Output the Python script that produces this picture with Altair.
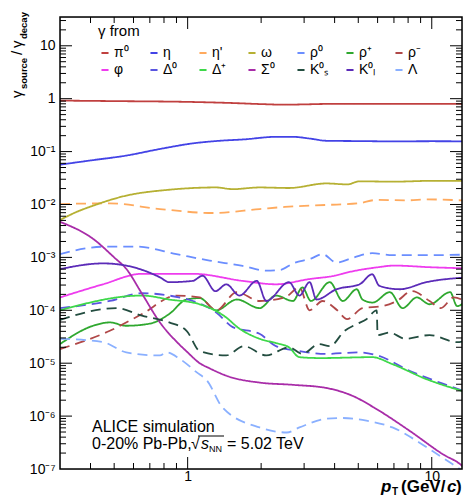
import altair as alt
import pandas as pd

FONT = "Liberation Sans"

labels = ["π⁰", "η", "η'", "ω", "ρ⁰", "ρ⁺", "ρ⁻", "φ", "Δ⁰", "Δ⁺", "Σ⁰", "K⁰ₛ", "K⁰ₗ", "Λ"]
colors = ["#c0403f", "#4343e6", "#ffaa5e", "#b6b033", "#6b8eff", "#2fa82f", "#b04848",
          "#ee3cee", "#5a55e0", "#3ed84a", "#a82ca8", "#234d40", "#5b2bb8", "#8ab0ff"]
dashed = [False, False, True, False, True, False, True,
          False, True, False, False, True, False, True]

pt_pi0 = [0.3, 0.5, 1.0, 1.5, 2.0, 2.5, 3.0, 4, 6, 8, 10, 14]
y_pi0 = [0.92, 0.90, 0.87, 0.83, 0.79, 0.77, 0.78, 0.80, 0.80, 0.80, 0.80, 0.80]

pt_eta = [0.3, 0.4, 0.56, 0.77, 1.05, 1.35, 1.7, 2.3, 2.7, 3.2, 3.7, 5, 7, 10, 14]
y_eta = [0.0565, 0.068, 0.084, 0.112, 0.143, 0.16, 0.17, 0.19, 0.19, 0.175, 0.16, 0.158, 0.156, 0.157, 0.156]

pt_etap = [0.3, 0.48, 0.77, 1.27, 1.97, 2.5, 3.7, 5, 5.95, 8, 9.5, 14]
y_etap = [0.0102, 0.0105, 0.0082, 0.0069, 0.0082, 0.0090, 0.0098, 0.0105, 0.0122, 0.012, 0.0125, 0.0118]

pt_omega = [0.3, 0.35, 0.41, 0.56, 0.84, 1.31, 1.53, 1.97, 2.6, 3.7, 4.5, 5.06, 7, 10, 14]
y_omega = [0.0051, 0.0072, 0.0095, 0.0147, 0.019, 0.021, 0.0195, 0.021, 0.0205, 0.025, 0.024, 0.0274, 0.027, 0.028, 0.028]

pt_rho0 = [0.3, 0.45, 0.62, 0.9, 1.23, 1.68, 2.1, 2.4, 2.7, 3.2, 3.57, 4.07, 4.8, 5.7, 6.9, 9.5, 14]
y_rho0 = [1.15e-3, 1.59e-3, 1.6e-3, 1.15e-3, 8.7e-4, 6.9e-4, 5.6e-4, 5.8e-4, 7.7e-4, 9.5e-4, 1.15e-3, 8e-4, 1.0e-3, 1.2e-3, 1.1e-3, 1.1e-3, 1.13e-3]

pt_rhop = [0.3, 0.41, 0.48, 0.56, 0.7, 0.84, 0.99, 1.12, 1.31, 1.59, 1.97, 2.3, 2.7, 2.95, 3.2,
           3.82, 4.32, 4.93, 5.2, 5.73, 6.73, 7.6, 8.68, 9.8, 11.9, 12.7, 14]
y_rhop = [2.3e-5, 5.1e-5, 5.9e-5, 5.1e-5, 5.6e-5, 8.5e-5, 1.6e-4, 1.7e-4, 1.0e-4, 1.6e-4, 1.1e-4, 1.9e-4, 1.5e-4, 2.7e-4, 1.5e-4,
          3.4e-4, 1.5e-4, 2.5e-4, 1.6e-4, 1.4e-4, 2.2e-4, 1.1e-4, 1.75e-4, 1.3e-4, 2.2e-4, 1.2e-4, 1.6e-4]

pt_rhom = [0.3, 0.48, 0.65, 0.9, 1.12, 1.31, 1.59, 1.97, 2.5, 2.87, 3.16, 3.57, 4.1, 4.5, 5.2, 6.3, 7.2, 8.3, 9.8, 10.9, 12.3, 14]
y_rhom = [1.85e-5, 4.1e-5, 8.5e-5, 1.9e-4, 1.75e-4, 1.0e-4, 2.2e-4, 1.5e-4, 1.75e-4, 2.7e-4, 1.0e-4, 1.5e-4, 1.0e-4, 6.8e-5, 1.1e-4, 1.2e-4, 1.5e-4, 2.3e-4, 1.5e-4, 1.1e-4, 1.75e-4, 1.4e-4]

pt_phi = [0.3, 0.45, 0.65, 1.05, 1.68, 2.3, 3.16, 4.0, 4.6, 6.0, 7.0, 10, 14]
y_phi = [1.75e-4, 3.1e-4, 4.9e-4, 4.9e-4, 3.6e-4, 3.1e-4, 3.9e-4, 4.5e-4, 5.3e-4, 6.5e-4, 7e-4, 6.5e-4, 6.2e-4]

pt_delta0 = [0.3, 0.48, 0.65, 0.84, 1.05, 1.31, 1.53, 1.97, 2.3, 2.87, 3.7, 5.0, 6.0, 8.1, 11.1, 14]
y_delta0 = [1.1e-4, 1.5e-4, 2.1e-4, 1.9e-4, 1.5e-4, 9.1e-5, 4.8e-5, 3.6e-5, 2.1e-5, 1.7e-5, 1.5e-5, 1.6e-5, 1.4e-5, 7.2e-6, 4.1e-6, 2.8e-6]

pt_deltap = [0.3, 0.65, 0.84, 1.12, 1.44, 1.6, 1.97, 2.3, 2.6, 2.87, 3.5, 5.7, 6.9, 9.5, 14]
y_deltap = [1.0e-4, 1.9e-4, 1.6e-4, 1.3e-4, 7.3e-5, 4.8e-5, 2.9e-5, 2.4e-5, 2.0e-5, 1.3e-5, 1.25e-5, 1.3e-5, 9.6e-6, 5.0e-6, 2.8e-6]

pt_sigma0 = [0.3, 0.41, 0.5, 0.56, 0.65, 0.77, 0.93, 1.0, 1.12, 1.23, 1.44, 1.97, 2.7, 3.7, 4.75, 5.95, 8.1, 11.1, 13.3, 14]
y_sigma0 = [4.7e-3, 2.24e-3, 1.0e-3, 6.1e-4, 2.06e-4, 5.9e-5, 2.2e-5, 1.6e-5, 1.0e-5, 8.0e-6, 5.8e-6, 4.3e-6, 3.9e-6, 3.4e-6, 2.4e-6, 1.35e-6, 5.3e-7, 1.9e-7, 1.15e-7, 9e-8]

pt_k0s = [0.3, 0.51, 0.65, 0.84, 0.99, 1.12, 1.44, 1.7, 2.1, 2.6, 2.95, 3.45, 3.82, 4.4, 4.93, 5.4, 5.95, 6.0, 6.7, 7.8, 9.8, 12.7, 14]
y_k0s = [6.6e-5, 1.1e-4, 7.9e-5, 5.9e-5, 4.1e-5, 1.7e-5, 1.4e-5, 2.1e-5, 1.4e-5, 2.0e-5, 1.5e-5, 2.3e-5, 2.1e-5, 4.1e-5, 5.5e-5, 6.8e-5, 1.0e-4, 3.4e-5, 3.8e-5, 2.9e-5, 3.4e-5, 2.5e-5, 2.7e-5]

pt_k0l = [0.3, 0.45, 0.56, 0.77, 0.84, 1.05, 1.15, 1.3, 1.44, 1.63, 1.92, 2.1, 2.6, 2.87, 3.16, 3.37,
          4.07, 5.06, 5.7, 6.1, 7.4, 9.5, 14]
y_k0l = [6e-4, 7.7e-4, 7e-4, 4.2e-4, 3.4e-4, 3.6e-4, 4.5e-4, 2.3e-4, 3.1e-4, 1.9e-4, 3.6e-4, 1.5e-4, 3.4e-4, 1.9e-4, 3.4e-4, 1.6e-4,
         2.5e-4, 3.1e-4, 4.8e-4, 2.9e-4, 2.5e-4, 3.4e-4, 4.2e-4]

pt_lambda = [0.3, 0.45, 0.56, 0.77, 0.82, 0.93, 1.09, 1.2, 1.39, 1.97, 2.55, 2.87, 3.7, 4.3, 5.4, 6.9, 9.5, 12.1, 14]
y_lambda = [2.9e-5, 2.5e-5, 1.6e-5, 1.4e-5, 1.6e-5, 1.2e-5, 6.7e-6, 4.7e-6, 1.45e-6, 6.1e-7, 4.9e-7, 6.1e-7, 8.9e-7, 9.2e-7, 8.2e-7, 6.1e-7, 2.6e-7, 1.25e-7, 8e-8]

series = [
    (pt_pi0, y_pi0), (pt_eta, y_eta), (pt_etap, y_etap), (pt_omega, y_omega),
    (pt_rho0, y_rho0), (pt_rhop, y_rhop), (pt_rhom, y_rhom), (pt_phi, y_phi),
    (pt_delta0, y_delta0), (pt_deltap, y_deltap), (pt_sigma0, y_sigma0),
    (pt_k0s, y_k0s), (pt_k0l, y_k0l), (pt_lambda, y_lambda),
]

x_major = [1, 10]
x_minor = [0.4, 0.5, 0.6, 0.7, 0.8, 0.9, 2, 3, 4, 5, 6, 7, 8, 9]
y_major = [1e-6, 1e-5, 1e-4, 1e-3, 1e-2, 1e-1, 1, 10]
y_label_vals = [1e-7] + y_major
y_minor = [k * 10.0 ** e for e in range(-7, 2) for k in range(2, 10) if k * 10.0 ** e <= 35]

rows = []
for lab, (px, py) in zip(labels, series):
    for a, b in zip(px, py):
        rows.append({"pt": a, "val": b, "src": lab})
df = pd.DataFrame(rows)

# legend is filled column by column (2 rows x 7 columns)
legend_order = [i for c in range(7) for i in (c, c + 7)]
dom = [labels[i] for i in legend_order]
rng_col = [colors[i] for i in legend_order]
rng_dash = [[10, 6] if dashed[i] else [1, 0] for i in legend_order]

W, H = 402, 452
MAJ, MIN = 12, 6
xs = alt.Scale(type="log", domain=[0.3, 13.3], nice=False)
ys = alt.Scale(type="log", domain=[1e-7, 35], nice=False)

x_axis = alt.Axis(values=x_major, ticks=False, domain=False, grid=False, title=None,
                  labelExpr="datum.value > 5 ? '10' : '1'", labelFontSize=14, labelPadding=0,
                  labelFont=FONT, labelColor="black", labelFlush=False, labelOverlap=False)
y_axis = alt.Axis(values=y_label_vals, ticks=False, domain=False, grid=False, title=None,
                  labelExpr="datum.value > 5 ? '10' : datum.value > 0.5 ? '1' : '10⁻' + ['','¹','²','³','⁴','⁵','⁶','⁷'][round(-log(datum.value)/LN10)]",
                  labelFontSize=14, labelPadding=5, labelFont=FONT, labelColor="black",
                  labelFlush=False, labelOverlap=False)

legend = alt.Legend(orient="none", legendX=38, legendY=7, columns=7, title="γ from",
                    titleFontSize=15, titleFontWeight="normal", titleColor="black", titleFont=FONT,
                    titlePadding=7, labelFont=FONT, labelFontSize=14, labelColor="black",
                    symbolType="stroke", symbolStrokeWidth=2, symbolSize=50, columnPadding=13,
                    rowPadding=3, gridAlign="all", labelOffset=2, padding=0)

lines = alt.Chart(df).mark_line(clip=True, strokeWidth=1.8, interpolate="monotone").encode(
    x=alt.X("pt:Q", scale=xs, axis=x_axis),
    y=alt.Y("val:Q", scale=ys, axis=y_axis),
    color=alt.Color("src:N", scale=alt.Scale(domain=dom, range=rng_col), legend=legend),
    strokeDash=alt.StrokeDash("src:N", scale=alt.Scale(domain=dom, range=rng_dash), legend=None),
)


def xticks(vals, y0, y1):
    return alt.Chart(pd.DataFrame({"v": vals})).mark_rule(color="black", strokeWidth=1).encode(
        x=alt.X("v:Q", scale=xs, axis=None), y=alt.value(y0), y2=alt.value(y1))


def yticks(vals, x0, x1):
    return alt.Chart(pd.DataFrame({"v": vals})).mark_rule(color="black", strokeWidth=1).encode(
        y=alt.Y("v:Q", scale=ys, axis=None), x=alt.value(x0), x2=alt.value(x1))


ticks = [
    xticks(x_major, H, H - MAJ), xticks(x_minor, H, H - MIN),
    xticks(x_major, 0, MAJ), xticks(x_minor, 0, MIN),
    yticks(y_major, 0, MAJ), yticks(y_minor, 0, MIN),
    yticks(y_major, W, W - MAJ), yticks(y_minor, W, W - MIN),
]

one = pd.DataFrame({"a": [0]})

frame = alt.Chart(one).mark_rect(fillOpacity=0, stroke="black", strokeWidth=1.5).encode(
    x=alt.value(0), x2=alt.value(W), y=alt.value(0), y2=alt.value(H))


def txt(s, x, y, size=16, **kw):
    return alt.Chart(one).mark_text(text=s, fontSize=size, font=FONT, align="left",
                                    baseline="alphabetic", color="black", **kw).encode(
        x=alt.value(x), y=alt.value(y))


texts = [
    txt("ALICE simulation", 32, 415, 16),
    txt("0-20% Pb-Pb,", 32, 432, 16),
    txt("√", 131, 432, 16),
    txt("s", 141, 432, 16, fontStyle="italic"),
    txt("NN", 149, 435, 9),
    txt("= 5.02 TeV", 167, 432, 16),
    # x-axis title
    txt("p", 321, 475, 17, fontStyle="italic", fontWeight="bold"),
    txt("T", 332, 478, 10, fontWeight="bold"),
    txt("(GeV/", 341, 475, 17, fontWeight="bold"),
    txt("c", 387, 475, 17, fontStyle="italic", fontWeight="bold"),
    txt(")", 396, 475, 17, fontWeight="bold"),
    # y-axis title (rotated)
    txt("γ", -38, 81, 15, angle=270),
    txt("source", -33, 72, 9.5, angle=270, fontWeight="bold"),
    txt("/", -38, 38, 15, angle=270),
    txt("γ", -38, 31, 15, angle=270),
    txt("decay", -33, 22, 9.5, angle=270, fontWeight="bold"),
]
overbar = alt.Chart(one).mark_rule(color="black", strokeWidth=1).encode(
    x=alt.value(138), x2=alt.value(164), y=alt.value(419))

chart = alt.layer(lines, *ticks, frame, *texts, overbar).resolve_axis(
    x="independent", y="independent"
).properties(
    width=W, height=H, autosize=alt.AutoSizeParams(type="none"),
    padding={"left": 52, "top": 9, "right": 1, "bottom": 27},
).configure_view(stroke="black", strokeWidth=1.5).configure(font=FONT)

chart.save("out.html", embed_options={"renderer": "svg", "actions": False})
